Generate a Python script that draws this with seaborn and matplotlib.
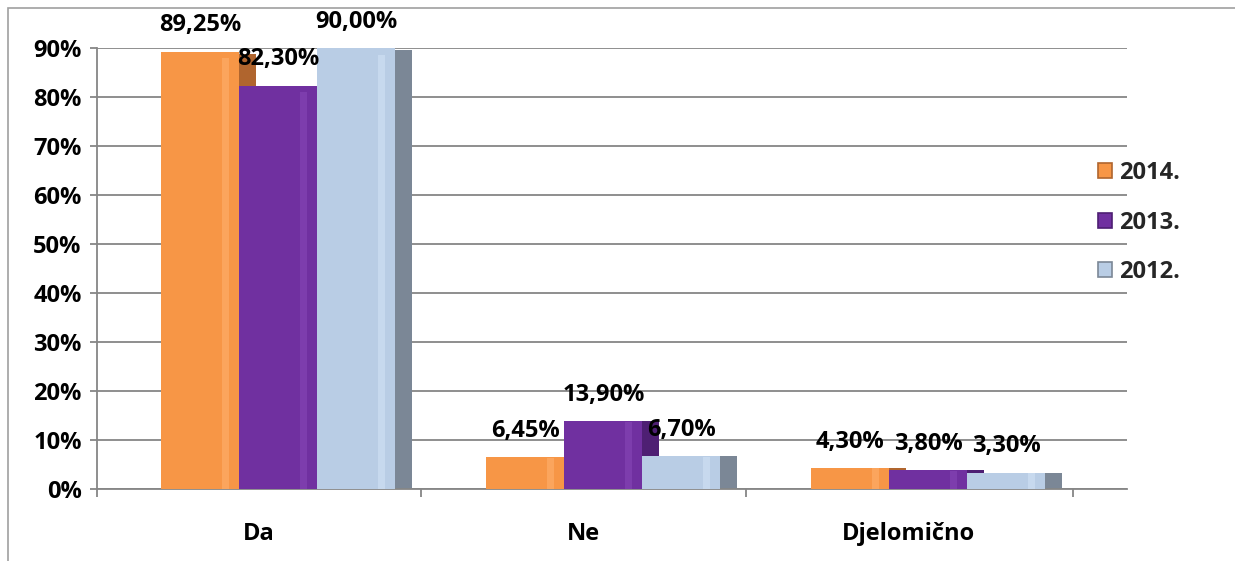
import matplotlib
matplotlib.use("Agg")
import matplotlib.pyplot as plt
from matplotlib.patches import Rectangle, Patch
from matplotlib.ticker import FixedLocator, FuncFormatter
import seaborn as sns
import pandas as pd
import numpy as np

categories = ["Da", "Ne", "Djelomično"]
years = ["2014.", "2013.", "2012."]
v2014 = [89.25, 6.45, 4.30]
v2013 = [82.30, 13.90, 3.80]
v2012 = [90.00, 6.70, 3.30]
yticks = [0, 10, 20, 30, 40, 50, 60, 70, 80, 90]

front_colors = ["#F79646", "#7030A0", "#B9CDE5"]
side_colors = ["#B0652E", "#4E1F73", "#7B8796"]
hi_colors = ["#FFB574", "#8A4BBB", "#D6E6F8"]

sns.set_theme(style="white")
plt.rcParams["font.family"] = ["Open Sans", "DejaVu Sans"]
plt.rcParams["font.weight"] = "bold"

FS = 17

df = pd.DataFrame({
    "cat": categories * 3,
    "year": [years[0]] * 3 + [years[1]] * 3 + [years[2]] * 3,
    "val": v2014 + v2013 + v2012,
})

fig = plt.figure(figsize=(12.35, 5.61), dpi=100)
ax = fig.add_axes([0.0785, 0.1283, 0.834, 0.7861])

sns.barplot(data=df, x="cat", y="val", hue="year", hue_order=years,
            palette=front_colors, width=0.72, saturation=1, ax=ax,
            legend=False, zorder=3)

depth = 0.052
patches = list(ax.patches)
for i, p in enumerate(patches):
    hi = i // 3
    x0, w, h = p.get_x(), p.get_width(), p.get_height()
    p.set_edgecolor("none")
    ax.add_patch(Rectangle((x0 + w, 0), depth, h * 0.995, facecolor=side_colors[hi],
                           edgecolor="none", zorder=2))
    ax.add_patch(Rectangle((x0 + w * 0.78, 0), w * 0.09, h * 0.985, facecolor=hi_colors[hi],
                           edgecolor="none", zorder=4, alpha=0.5))
    val = df["val"].iloc[i]
    lbl = f"{val:.2f}%".replace(".", ",")
    ax.annotate(lbl, (x0 + w / 2, h), xytext=(0, 19), textcoords="offset points",
                ha="center", va="center", fontsize=FS, fontweight="bold", color="black",
                zorder=6)

ax.set_ylim(0, 90)
ax.set_xlim(-0.558, 2.611)
ax.set_yticks(yticks)
ax.yaxis.set_major_formatter(FuncFormatter(lambda v, pos: f"{int(v)}%"))
ax.set_xticks([k - 0.06 for k in range(3)])
ax.set_xticklabels(categories)
ax.xaxis.set_minor_locator(FixedLocator([-0.558, 0.44, 1.44, 2.445]))
ax.tick_params(axis="x", which="major", length=0, pad=24, labelsize=FS)
ax.tick_params(axis="x", which="minor", length=6, width=1.3, color="#868686", direction="out", bottom=True)
ax.tick_params(axis="y", which="major", length=5, width=1.3, color="#868686", direction="out", left=True, labelsize=FS, pad=6)
for t in ax.get_xticklabels() + ax.get_yticklabels():
    t.set_fontweight("bold")
    t.set_color("black")

ax.set_xlabel("")
ax.set_ylabel("")
ax.grid(axis="y", color="#868686", linewidth=1.3, zorder=0)
ax.set_axisbelow(True)
for s in ["top", "right"]:
    ax.spines[s].set_visible(False)
for s in ["left", "bottom"]:
    ax.spines[s].set_color("#868686")
    ax.spines[s].set_linewidth(1.3)

handles = [Patch(facecolor=front_colors[i], edgecolor=side_colors[i], linewidth=1.2) for i in range(3)]
leg = fig.legend(handles, years, loc="center left", bbox_to_anchor=(0.872, 0.603),
                 frameon=False, prop={"weight": "bold", "size": FS},
                 handlelength=0.6, handleheight=0.6, handletextpad=0.3, labelspacing=1.08)

fig.add_artist(Rectangle((8 / 1235, -0.05), 1.1, 1 - 8 / 561 + 0.05, transform=fig.transFigure,
                         fill=False, edgecolor="#A0A0A0", linewidth=1.2))

fig.savefig("out.png", dpi=100)
